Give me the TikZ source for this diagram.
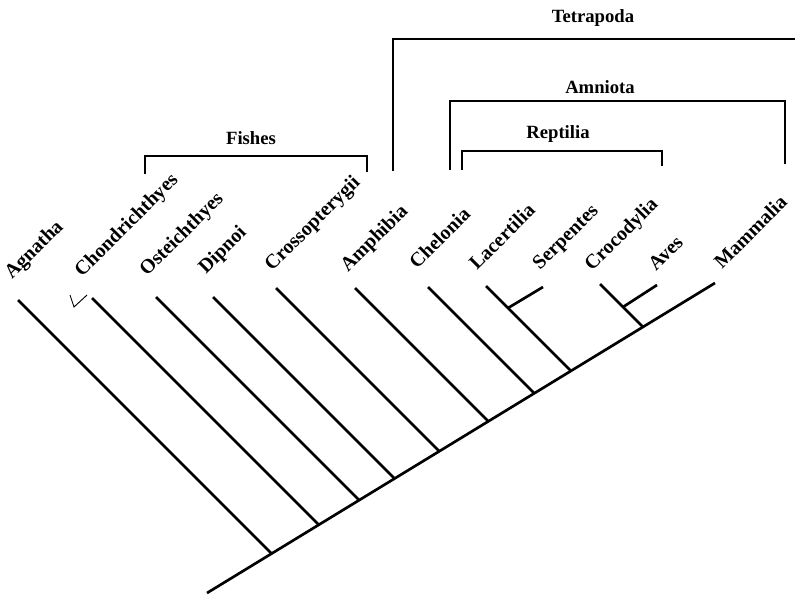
\documentclass[tikz,border=0pt]{standalone}
\usepackage{fontspec}
\setmainfont{Liberation Serif}
\usepackage{tikz}
\usetikzlibrary{calc}

\begin{document}
\begin{tikzpicture}[x=0.75pt, y=-0.75pt]
      \tikzset{
        taxon/.style={font=\fontsize{15}{18}\selectfont\bfseries, rotate=45, anchor=base west, inner sep=0pt},
        clade/.style={font=\fontsize{14}{16}\selectfont\bfseries, inner sep=0pt},
        branch/.style={draw, line width=2pt},
        bracket/.style={draw, line width=1.1pt},
        tick/.style={draw, line width=0.7pt},
      }
      \useasboundingbox (0,0) rectangle (795,594);

      % spine
      \coordinate (root) at (207,593);
      \coordinate (mam) at (715,283);
      % tips of the branches
      \coordinate (agn) at (18,300);
      \coordinate (cho) at (92,298);
      \coordinate (ost) at (156,297);
      \coordinate (dip) at (213,297);
      \coordinate (cro) at (276,288);
      \coordinate (amp) at (355,288);
      \coordinate (che) at (428,287);
      \coordinate (lac) at (486,286);
      \coordinate (ser) at (543,287);
      \coordinate (crc) at (600,284);
      \coordinate (ave) at (657,285);
      % where they meet the spine
      \coordinate (j1) at (271.6,553.6);
      \coordinate (j2) at (318.8,524.8);
      \coordinate (j3) at (359.1,500.1);
      \coordinate (j4) at (394.6,478.6);
      \coordinate (j5) at (439.3,451.3);
      \coordinate (j6) at (488.3,421.3);
      \coordinate (j7) at (534.3,393.3);
      \coordinate (j8) at (571,371);
      \coordinate (j9) at (643,327);
      \coordinate (k1) at (508,308);
      \coordinate (k2) at (623,307);

      \node [taxon] (agnl) at (12,280) {Agnatha};
      \node [taxon] (chol) at (82,278) {Chondrichthyes};
      \node [taxon] (ostl) at (147,277) {Osteichthyes};
      \node [taxon] (dipl) at (206,275) {Dipnoi};
      \node [taxon] (crol) at (272,272) {Crossopterygii};
      \node [taxon] (ampl) at (348,273) {Amphibia};
      \node [taxon] (chel) at (417,270) {Chelonia};
      \node [taxon] (lacl) at (477,271) {Lacertilia};
      \node [taxon] (serl) at (540,271) {Serpentes};
      \node [taxon] (crcl) at (592,272) {Crocodylia};
      \node [taxon] (avel) at (656,272) {Aves};
      \node [taxon] (maml) at (722,270) {Mammalia};

      \node [clade] (tetra) at (593,18) {Tetrapoda};
      \node [clade] (amnio) at (600,87) {Amniota};
      \node [clade] (rept) at (558,134) {Reptilia};
      \node [clade] (fish) at (251,138) {Fishes};

      \path [branch] (root)--(mam);
      \path [branch] (agn)--(j1);
      \path [branch] (cho)--(j2);
      \path [branch] (ost)--(j3);
      \path [branch] (dip)--(j4);
      \path [branch] (cro)--(j5);
      \path [branch] (amp)--(j6);
      \path [branch] (che)--(j7);
      \path [branch] (lac)--(j8);
      \path [branch] (k1)--(ser);
      \path [branch] (crc)--(j9);
      \path [branch] (k2)--(ave);

      % brackets
      \path [bracket] (145,174) |- (367,156) -- (367,172);
      \path [bracket] (393,171) |- (795,39);
      \path [bracket] (450,170) |- (785,101) -- (785,164);
      \path [bracket] (462,170) |- (662,151) -- (662,166);

      \path [tick] (70,295) -- (74,307) -- (87,295);
\end{tikzpicture}
\end{document}
